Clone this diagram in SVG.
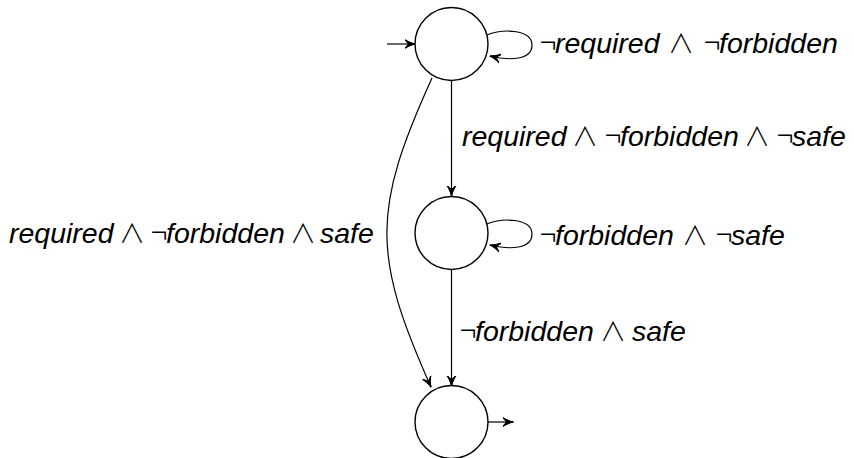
<svg xmlns="http://www.w3.org/2000/svg" width="854" height="458" viewBox="0 0 854 458">
  <style>
    .state { fill: #fff; stroke: #000; stroke-width: 1.4; }
    .edge { fill: none; stroke: #000; stroke-width: 1.2; marker-end: url(#arrow); }
    .lbl { font-family: "Liberation Sans", Arial, sans-serif; font-style: italic; font-size: 28.5px; fill: #000; }
    .and { font-family: "Noto Sans CJK JP", "DejaVu Sans", sans-serif; font-style: normal; font-weight: 200; font-size: 26px; }
    .neg { font-family: "Noto Sans CJK JP", "DejaVu Sans", sans-serif; font-style: normal; font-weight: 200; font-size: 30px; }
  </style>
  <defs>
    <marker id="arrow" viewBox="0 0 10 10" refX="9.5" refY="5" markerWidth="11" markerHeight="11" markerUnits="userSpaceOnUse" orient="auto">
      <path d="M0,1 Q5,5 10,5 Q5,5 0,9" fill="none" stroke="#000" stroke-width="1.3"/>
      <path d="M0,1 L10,5 L0,9 L3,5 Z" fill="#000"/>
    </marker>
  </defs>

  <g id="connectors">
    <!-- start / accept markers -->
    <path class="edge" d="M387,44 L415,44"/>
    <path class="edge" d="M488,422 L513,422"/>
    <!-- self loops -->
    <path class="edge" d="M486.5,35 C505,28 532,30 532,45 C532,60 510,61 490,56"/>
    <path class="edge" d="M486.5,224 C505,217 532,219 532,234 C532,249 510,250 490,245"/>
    <!-- straight transitions -->
    <path class="edge" d="M451.5,81 L451.5,196"/>
    <path class="edge" d="M451.5,270 L451.5,386"/>
    <!-- bypass transition -->
    <path class="edge" d="M432,78 C372,210 372,255 431,387"/>
  </g>

  <g id="q0"><circle class="state" cx="451.5" cy="44" r="36.5"/></g>
  <g id="q1"><circle class="state" cx="451.5" cy="233" r="36.5"/></g>
  <g id="q2"><circle class="state" cx="451.5" cy="422" r="36.5"/></g>

  <g id="labels">
    <text class="lbl" y="53"><tspan class="neg" x="540">¬</tspan><tspan x="555">required</tspan><tspan class="and" x="668">∧</tspan><tspan class="neg" x="704">¬</tspan><tspan x="719">forbidden</tspan></text>
    <text class="lbl" y="146"><tspan x="462">required</tspan><tspan class="and" x="572">∧</tspan><tspan class="neg" x="605">¬</tspan><tspan x="620">forbidden</tspan><tspan class="and" x="744">∧</tspan><tspan class="neg" x="777">¬</tspan><tspan x="792">safe</tspan></text>
    <text class="lbl" y="245"><tspan class="neg" x="540">¬</tspan><tspan x="555">forbidden</tspan><tspan class="and" x="682">∧</tspan><tspan class="neg" x="716">¬</tspan><tspan x="731">safe</tspan></text>
    <text class="lbl" y="341"><tspan class="neg" x="460">¬</tspan><tspan x="475">forbidden</tspan><tspan class="and" x="600">∧</tspan><tspan x="632">safe</tspan></text>
    <text class="lbl" y="243"><tspan x="9">required</tspan><tspan class="and" x="119">∧</tspan><tspan class="neg" x="151">¬</tspan><tspan x="166">forbidden</tspan><tspan class="and" x="290">∧</tspan><tspan x="320">safe</tspan></text>
  </g>
</svg>
